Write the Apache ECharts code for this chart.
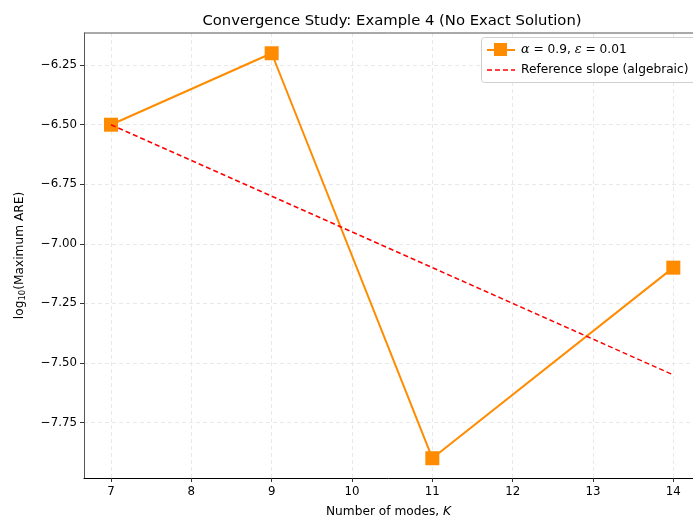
<!DOCTYPE html>
<html>
<head>
<meta charset="utf-8">
<script src="https://cdn.jsdelivr.net/npm/echarts@6/dist/echarts.min.js"></script>
<style>
  html, body { margin: 0; padding: 0; background: #fff; }
  #chart { width: 693px; height: 523px; }
</style>
</head>
<body>
<div id="chart"></div>
<script>
// Number of modes K and the log10 of the maximum ARE
const modes = [7, 9, 11, 14];
const maxAre = [-6.5, -6.2, -7.9, -7.1];

// Reference algebraic slope line
const refModes = [7, 14];
const refValues = [-6.5, -7.55];

// Tick positions
const xTicks = [7, 8, 9, 10, 11, 12, 13, 14];
const yTicks = [-7.75, -7.5, -7.25, -7.0, -6.75, -6.5, -6.25];

// Legend entries
const legendLabels = ['{m|\u03B1} = 0.9, {m|\u03B5} = 0.01', 'Reference slope (algebraic)'];

const FONT = 'DejaVu Sans';
const ORANGE = '#ff8c00';
const RED = '#ff0000';
const LABEL_SIZE = 12.2;
const TICK_SIZE = 11.8;
const fmtY = v => (v < 0 ? '\u2212' : '') + Math.abs(v).toFixed(2);

const chart = echarts.init(document.getElementById('chart'), null, { renderer: 'canvas' });

const legendText = {
  fontFamily: FONT, fontSize: LABEL_SIZE, fill: '#000', verticalAlign: 'middle',
  rich: { m: { fontFamily: 'DejaVu Serif', fontStyle: 'italic', fontSize: 12.8, fill: '#000' } }
};
const LZ = 50;

chart.setOption({
  animation: false,
  backgroundColor: '#ffffff',
  textStyle: { fontFamily: FONT },
  title: {
    text: 'Convergence Study: Example 4 (No Exact Solution)',
    left: 387, top: 9, textAlign: 'center',
    textStyle: { fontFamily: FONT, fontSize: 14.8, fontWeight: 'normal', color: '#000' }
  },
  grid: { left: 84, top: 33, right: 0, height: 447, containLabel: false },
  xAxis: {
    type: 'value',
    min: 6.664, max: 14.245,
    name: 'Number of modes, {i|K}',
    nameLocation: 'middle', nameGap: 28,
    nameTextStyle: {
      fontFamily: FONT, fontSize: LABEL_SIZE, color: '#000',
      rich: { i: { fontFamily: FONT, fontStyle: 'italic', fontSize: LABEL_SIZE, color: '#000' } }
    },
    axisLine: { show: true, onZero: false, lineStyle: { color: '#000', width: 1 } },
    axisTick: { show: true, inside: false, length: 4, customValues: xTicks, lineStyle: { color: '#333' } },
    axisLabel: { customValues: xTicks, color: '#000', fontSize: TICK_SIZE, fontFamily: FONT, margin: 8 },
    splitLine: { show: true, lineStyle: { color: '#e3e3e3', type: [4, 3], width: 0.8 } }
  },
  yAxis: [{
    type: 'value',
    min: -7.983, max: -6.115,
    name: 'log{s|10}(Maximum ARE)',
    nameLocation: 'middle', nameGap: 57, nameRotate: 90,
    nameTextStyle: {
      fontFamily: FONT, fontSize: LABEL_SIZE, color: '#000',
      rich: { s: { fontFamily: FONT, fontSize: 8.5, color: '#000', verticalAlign: 'bottom', padding: [6, 0, 0, 0] } }
    },
    axisLine: { show: true, onZero: false, lineStyle: { color: '#555', width: 1 } },
    axisTick: { show: true, inside: false, length: 4, customValues: yTicks, lineStyle: { color: '#333' } },
    axisLabel: { customValues: yTicks, color: '#000', fontSize: TICK_SIZE, fontFamily: FONT, margin: 7, formatter: fmtY },
    splitLine: { show: true, lineStyle: { color: '#e3e3e3', type: [4, 3], width: 0.8 } }
  }],
  series: [
    {
      name: 'alpha',
      type: 'line',
      data: modes.map((k, i) => [k, maxAre[i]]),
      symbol: 'rect', symbolSize: 14,
      itemStyle: { color: ORANGE },
      lineStyle: { color: ORANGE, width: 2 },
      z: 3
    },
    {
      name: 'ref',
      type: 'line',
      data: refModes.map((k, i) => [k, refValues[i]]),
      symbol: 'none',
      itemStyle: { color: RED },
      lineStyle: { color: RED, width: 1.5, type: [5, 3] },
      z: 4
    }
  ],
  graphic: [
    // top frame line
    { type: 'line', shape: { x1: 84, y1: 33, x2: 693, y2: 33 }, style: { stroke: '#555', lineWidth: 1 }, z: 10 },
    // legend box
    {
      type: 'group', left: 481, top: 37, z: LZ,
      children: [
        { type: 'rect', z: LZ, shape: { x: 0.5, y: 0.5, width: 240, height: 45, r: 3 },
          style: { fill: 'rgba(255,255,255,0.9)', stroke: '#d0d0d0', lineWidth: 1 } },
        { type: 'line', z: LZ + 1, shape: { x1: 6, y1: 13, x2: 34, y2: 13 }, style: { stroke: ORANGE, lineWidth: 2 } },
        { type: 'rect', z: LZ + 2, shape: { x: 13, y: 6, width: 13, height: 13 }, style: { fill: ORANGE } },
        { type: 'text', z: LZ + 1, x: 40, y: 13, style: Object.assign({ text: legendLabels[0] }, legendText) },
        { type: 'line', z: LZ + 1, shape: { x1: 6, y1: 33, x2: 34, y2: 33 }, style: { stroke: RED, lineWidth: 1.5, lineDash: [5, 3] } },
        { type: 'text', z: LZ + 1, x: 40, y: 33, style: Object.assign({ text: legendLabels[1] }, legendText) }
      ]
    }
  ]
});
</script>
</body>
</html>
